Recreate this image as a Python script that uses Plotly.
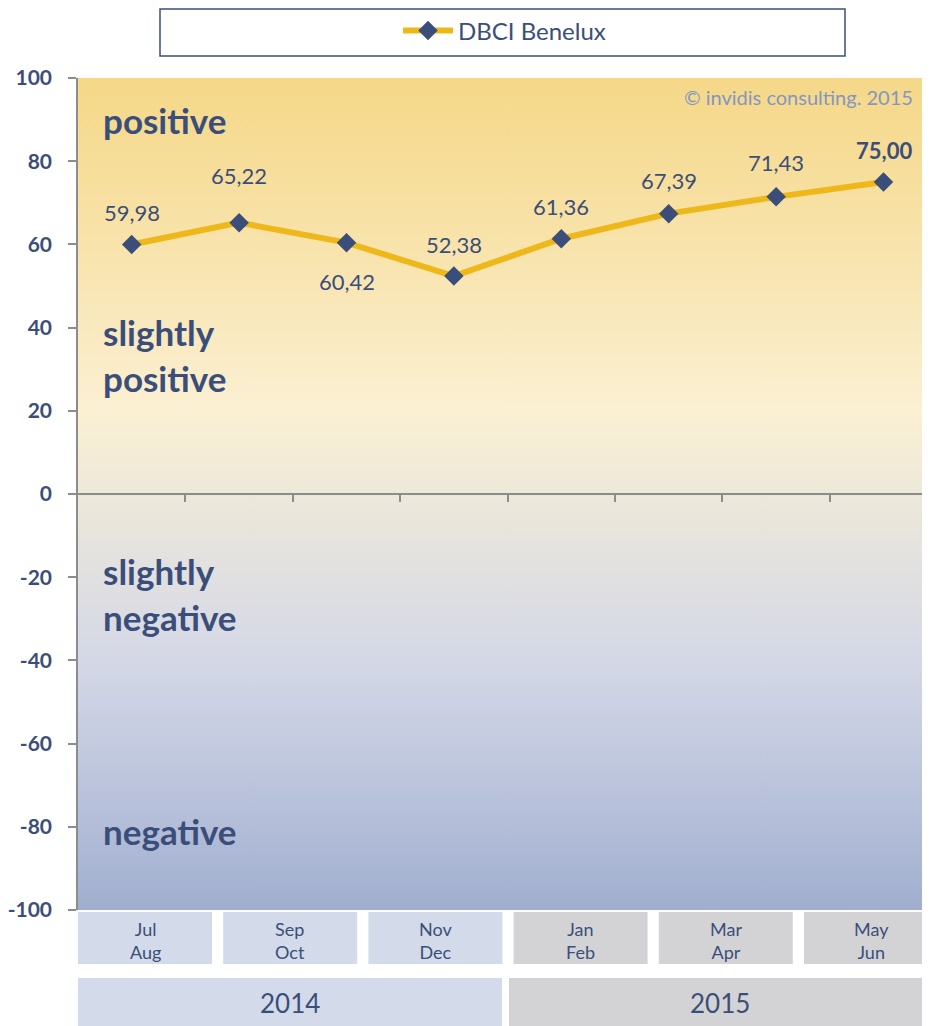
import plotly.graph_objects as go

# ---- data ----
periods = ["P1", "P2", "P3", "P4", "P5", "P6", "P7", "P8"]
values = [59.98, 65.22, 60.42, 52.38, 61.36, 67.39, 71.43, 75.00]
series_name = "DBCI Benelux"
bimonth_labels = ["Jul<br>Aug", "Sep<br>Oct", "Nov<br>Dec", "Jan<br>Feb", "Mar<br>Apr", "May<br>Jun"]
bimonth_years = [2014, 2014, 2014, 2015, 2015, 2015]
years = ["2014", "2015"]
zone_labels = ["positive", "slightly<br>positive", "slightly<br>negative", "negative"]
zone_levels = [90, 33.5, -24, -81]
y_ticks = [-100, -80, -60, -40, -20, 0, 20, 40, 60, 80, 100]
y_ticktext = [str(t) for t in y_ticks]

# ---- style ----
OFF = 8                      # browser body margin
W, H = 930 - OFF, 1026 - OFF
ML, MR, MT = 78 - OFF, 0, 78 - OFF
MB = H - MT - 832
PW, PH = W - ML - MR, H - MT - MB
NAVY = "#3B4E7A"
GOLD = "#EEB81B"
FONT = "Lato"
label_shift = [32, 47, -39, 32, 32, 33, 34, 32]
x_max = -0.5 + PW / 107.4


def px(x):  # page x pixel -> paper
    return (x - OFF - ML) / PW


def py(y):  # page y pixel -> paper
    return (H - MB - (y - OFF)) / PH


fig = go.Figure()

# gradient background
fig.add_trace(go.Scatter(
    x=[-0.5, 9, 9, -0.5], y=[-100, -100, 100, 100],
    fill="toself", mode="none", hoverinfo="skip", showlegend=False,
    fillgradient=dict(type="vertical", colorscale=[
        [0.0, "#A0AECF"], [0.1, "#B3BDD8"], [0.2, "#C4CBE0"], [0.3, "#D4D8E6"],
        [0.4, "#E1E0E1"], [0.5, "#EDE8DA"], [0.6, "#FBF0D3"], [0.7, "#F9E9BF"],
        [0.8, "#F8E3AB"], [0.9, "#F6DD99"], [1.0, "#F5D888"]]),
))

xs = list(range(len(values)))
fig.add_trace(go.Scatter(
    x=xs, y=values, name=series_name, mode="lines+markers",
    line=dict(color=GOLD, width=6),
    marker=dict(symbol="diamond", size=15, color=NAVY, line=dict(width=0)),
    cliponaxis=False,
))

annotations = []
for i, v in enumerate(values):
    txt = f"{v:.2f}".replace(".", ",")
    if i == len(values) - 1:
        txt = f"<b>{txt}</b>"
    annotations.append(dict(
        x=i, y=v, xref="x", yref="y", text=txt, showarrow=False,
        xanchor="center", yanchor="middle",
        yshift=label_shift[i], font=dict(family=FONT, size=22, color=NAVY),
    ))

for lab, lev in zip(zone_labels, zone_levels):
    annotations.append(dict(
        x=px(101), y=lev, xref="paper", yref="y", text=f"<b>{lab}</b>",
        showarrow=False, xanchor="left", yanchor="middle", align="left",
        font=dict(family=FONT, size=35, color=NAVY),
    ))

annotations.append(dict(
    x=px(915), y=py(97), xref="paper", yref="paper",
    text="© invidis consulting. 2015", showarrow=False, xanchor="right",
    yanchor="middle", font=dict(family=FONT, size=20, color="#8496C2"),
))

shapes = []
# legend frame
shapes.append(dict(type="rect", xref="paper", yref="paper",
                   x0=px(160), x1=px(845), y0=py(56), y1=py(OFF + 1),
                   line=dict(color=NAVY, width=1.5), fillcolor="white", layer="below"))

box_color = {2014: "#D3DAE9", 2015: "#D3D3D5"}
for i, (lab, yr) in enumerate(zip(bimonth_labels, bimonth_years)):
    x0 = 78 + i * 145.2
    x1 = x0 + 134
    shapes.append(dict(type="rect", xref="paper", yref="paper",
                       x0=px(x0), x1=px(x1), y0=py(964), y1=py(912),
                       line=dict(width=0), fillcolor=box_color[yr]))
    annotations.append(dict(
        x=px((x0 + x1) / 2), y=py(940), xref="paper", yref="paper", text=lab,
        showarrow=False, xanchor="center", yanchor="middle",
        font=dict(family=FONT, size=18, color=NAVY),
    ))

year_spans = {"2014": (78, 502), "2015": (509, 930)}
for yr in years:
    x0, x1 = year_spans[yr]
    shapes.append(dict(type="rect", xref="paper", yref="paper",
                       x0=px(x0), x1=px(x1), y0=py(1026), y1=py(978),
                       line=dict(width=0), fillcolor=box_color[int(yr)]))
    annotations.append(dict(
        x=px((x0 + x1) / 2), y=py(1003), xref="paper", yref="paper", text=yr,
        showarrow=False, xanchor="center", yanchor="middle",
        font=dict(family=FONT, size=26, color=NAVY),
    ))

fig.update_layout(
    width=W, height=H,
    margin=dict(l=ML, r=MR, t=MT, b=MB, pad=0, autoexpand=False),
    paper_bgcolor="white", plot_bgcolor="white",
    font=dict(family=FONT, color=NAVY),
    showlegend=True,
    legend=dict(x=px(398), y=py(31), xanchor="left", yanchor="middle",
                bgcolor="rgba(0,0,0,0)", font=dict(family=FONT, size=24, color=NAVY),
                itemwidth=50),
    xaxis=dict(range=[-0.5, x_max], showgrid=False, zeroline=False,
               anchor="free", position=0.5, automargin=False,
               showline=True, linecolor="#8C8C8C", linewidth=2,
               tickmode="array", tickvals=[i + 0.5 for i in range(len(values))],
               ticks="outside", ticklen=7, tickwidth=2, tickcolor="#8C8C8C",
               showticklabels=False, fixedrange=True),
    yaxis=dict(range=[-100, 100], tickmode="array", tickvals=y_ticks, ticktext=y_ticktext,
               showgrid=False, zeroline=False, automargin=False,
               showline=True, linecolor="#8C8C8C", linewidth=1.5,
               ticks="outside", ticklen=8, tickwidth=1.5, tickcolor="#8C8C8C",
               tickfont=dict(family=FONT, size=21, color=NAVY, weight="bold"),
               ticklabelstandoff=12, fixedrange=True),
    shapes=shapes, annotations=annotations,
)

fig.write_html("out.html")
